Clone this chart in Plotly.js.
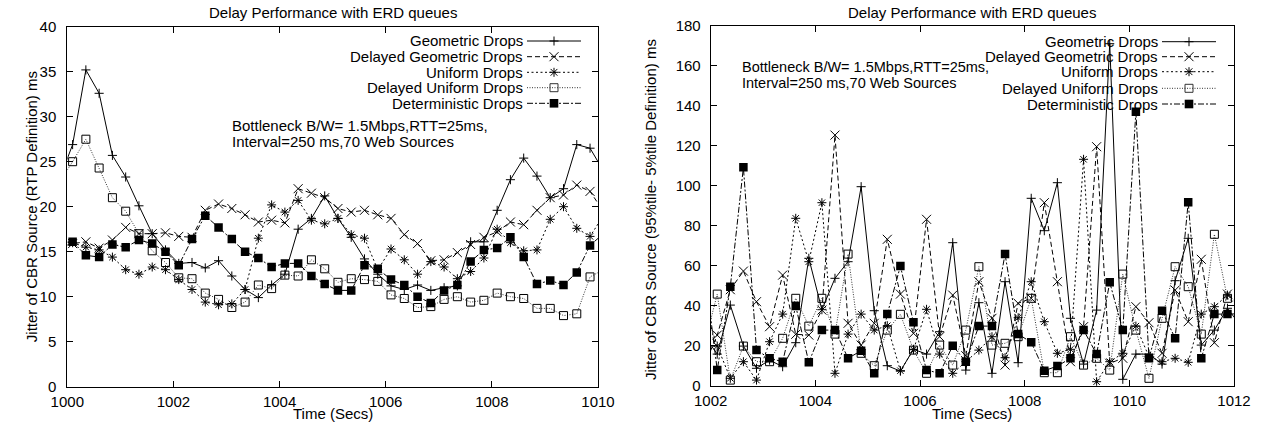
<!DOCTYPE html>
<html><head><meta charset="utf-8">
<script src="https://cdn.plot.ly/plotly-3.0.1.min.js"></script>
<style>html,body{margin:0;padding:0;background:#fff}</style>
</head><body>
<div id="chart" style="width:1265px;height:429px"></div>
<script>
// ---------- DATA ----------
const seriesNames = ['Geometric Drops','Delayed Geometric Drops','Uniform Drops','Delayed Uniform Drops','Deterministic Drops'];

// Left chart: Jitter (RTP definition), ms
const leftTime = [999.85,1000.10,1000.35,1000.60,1000.85,1001.10,1001.35,1001.60,1001.85,1002.10,1002.35,1002.60,1002.85,1003.10,1003.35,1003.60,1003.85,1004.10,1004.35,1004.60,1004.85,1005.10,1005.35,1005.60,1005.85,1006.10,1006.35,1006.60,1006.85,1007.10,1007.35,1007.60,1007.85,1008.10,1008.35,1008.60,1008.85,1009.10,1009.35,1009.60,1009.85,1010.10];
const leftGeometric = [23,26.9,35.2,32.6,25.7,23.3,20.1,17.0,15.2,13.7,13.8,13.2,14.0,12.3,10.8,9.9,11.3,12.5,17.5,18.7,21.2,18.7,16.6,14.2,12.5,11.2,10.8,11.3,10.7,11.0,11.2,16.1,16.1,19.6,23.0,25.4,23.4,21.0,22.0,26.9,26.5,24];
const leftDelayedGeometric = [15.5,15.9,16.1,15.4,16.3,17.7,17.0,17.0,17.1,16.7,16.6,19.6,20.3,19.8,19.1,18.3,18.5,18.2,22.0,21.5,21.0,19.8,19.4,19.6,19.1,18.7,16.9,15.9,14.0,14.1,14.9,15.8,16.6,17.2,18.3,18.0,19.6,21.0,21.3,22.4,21.7,19.5];
const leftUniform = [16.2,16.0,15.5,15.2,14.4,13.0,12.5,13.3,13.0,11.9,10.8,9.4,9.1,9.2,10.8,16.5,20.2,19.4,20.7,18.5,18.1,18.7,16.9,16.5,13.0,15.3,14.1,12.5,13.9,13.3,12.0,12.8,14.3,17.5,16.0,15.1,15.2,18.6,20.0,17.6,16.7,19];
const leftDelayedUniform = [22.7,25.0,27.5,24.3,21.0,19.5,17.0,15.1,13.8,12.1,12.0,10.4,9.7,8.8,9.4,11.3,10.9,12.4,12.3,14.1,13.1,11.6,12.0,11.9,11.7,10.2,9.8,8.8,8.9,9.7,10.0,9.4,9.6,10.4,10.0,9.8,8.7,8.7,7.9,8.1,12.2,13];
const leftDeterministic = [16.0,16.1,14.6,14.4,15.8,15.5,16.3,15.9,15.0,13.5,16.4,19.0,17.7,16.4,15.0,14.3,13.3,13.7,13.7,12.3,11.4,10.7,10.7,13.5,13.1,11.9,11.3,10.0,9.3,10.7,11.3,13.9,15.2,15.4,16.6,14.4,11.4,11.8,11.3,12.7,15.7,17];

// Right chart: Jitter (95%tile - 5%tile definition), ms
const rightTime = [1001.875,1002.125,1002.375,1002.625,1002.875,1003.125,1003.375,1003.625,1003.875,1004.125,1004.375,1004.625,1004.875,1005.125,1005.375,1005.625,1005.875,1006.125,1006.375,1006.625,1006.875,1007.125,1007.375,1007.625,1007.875,1008.125,1008.375,1008.625,1008.875,1009.125,1009.375,1009.625,1009.875,1010.125,1010.375,1010.625,1010.875,1011.125,1011.375,1011.625,1011.875,1012.125];
const rightGeometric = [25,15.8,40.3,19.8,8.7,12.8,9.5,21.5,63.7,38,53.7,62,99.5,37.5,10,7.3,18.2,15.8,27,71.5,7.8,41.5,6.2,52,11.5,93.7,77.5,101.5,33.7,10.8,37.8,171,3.2,15.8,15.8,10.8,52.5,73.7,20.3,27.8,38.7,30];
const rightDelayedGeometric = [10,25.3,48,57.3,42,29.5,55.3,25.7,25.3,37.8,125.3,31.2,20.3,31.2,73.2,45.8,26.2,83.2,24.5,45.3,15,52,33.7,10.3,41.2,43.7,91.5,52,12,29.5,119.5,11.2,13.7,39.5,31.5,16.2,47.8,32,63.2,21.5,45.8,40];
const rightUniform = [40,19.8,3.7,12,2.8,22,35.8,83.7,62,91.5,6.2,25.8,35.8,27.8,30,7.5,18,38.2,15.8,6.2,12,17.8,24.5,14,34,52,32,16.2,18.2,113.2,2,12,16.2,29.8,14.5,12,13.7,11.7,35.8,39.5,45.3,40];
const rightDelayedUniform = [20,45.8,2.8,19.8,12,12,23.7,43.7,29.8,43.7,25.8,65.8,16.2,10,27.8,35.7,17.8,6.2,20.3,10.3,27.8,59.5,20.3,21.2,24.5,43.7,6.5,6.5,24.5,10.3,13.7,7.8,55.8,27.8,3.7,33.7,59.5,49.5,25.8,75.7,43.7,40];
const rightDeterministic = [60,7.8,49.5,109.2,17.8,13.7,12,39.8,11.7,27.8,27.8,13.7,17.5,6.2,35.8,59.8,31.7,7.8,6.2,20,12,29.8,29.8,65.8,25.8,21.7,7.5,9.8,13.7,27.8,15.8,51.7,27.8,137,13.7,37.5,23.7,91.7,13.7,35.8,35.8,36];

const leftXTicks = [1000,1002,1004,1006,1008,1010];
const rightXTicks = [1002,1004,1006,1008,1010,1012];

// ---------- STYLE ----------
const W = 1265, H = 429;
const FONT = 'Liberation Sans, Arial, Helvetica, sans-serif';
const FS = 15;
const PX = x => x / W;
const PY = y => 1 - y / H;

const styles = [
  {dash:'solid',            symbol:'cross-thin-open', size:6.5, lw:1, color:'#000'},
  {dash:'5px,3px',          symbol:'x-thin-open',     size:9,   lw:1, color:'#000'},
  {dash:'2px,2.5px',        symbol:'asterisk-open',   size:7.5, lw:1, color:'#000'},
  {dash:'1px,1.5px',        symbol:'square-open',     size:8,   lw:1, color:'#333'},
  {dash:'6px,2px,2px,2px',  symbol:'square',          size:8.5, lw:1, color:'#000'}
];

const leftSeries = [leftGeometric,leftDelayedGeometric,leftUniform,leftDelayedUniform,leftDeterministic];
const rightSeries = [rightGeometric,rightDelayedGeometric,rightUniform,rightDelayedUniform,rightDeterministic];

const traces = [];
function addTraces(time, series, xa, ya) {
  series.forEach((vals, i) => {
    const s = styles[i];
    traces.push({
      type:'scatter', mode:'lines+markers', x: time, y: vals, xaxis: xa, yaxis: ya,
      name: seriesNames[i], showlegend:false, hoverinfo:'skip',
      line:{color:s.color, width:1, dash:s.dash},
      marker:{symbol:s.symbol, size:s.size, color:'#000',
              line:{color:'#000', width: s.symbol==='square' ? 0 : 1}}
    });
  });
}
addTraces(leftTime, leftSeries, 'x', 'y');
addTraces(rightTime, rightSeries, 'x2', 'y2');

function axisCommon() {
  return {
    showline:true, linecolor:'#000', linewidth:1, mirror:'ticks',
    ticks:'inside', ticklen:6, tickwidth:1, tickcolor:'#000',
    showgrid:false, zeroline:false, fixedrange:true,
    tickfont:{family:FONT, size:FS, color:'#000'}
  };
}

const layout = {
  width:W, height:H, margin:{l:0,r:0,t:0,b:0}, showlegend:false,
  paper_bgcolor:'#fff', plot_bgcolor:'#fff',
  font:{family:FONT, size:FS, color:'#000'},
  xaxis: Object.assign(axisCommon(), {domain:[PX(67.3),PX(598)], range:[1000,1010], tickvals:leftXTicks, anchor:'y', ticklabelstandoff:1}),
  yaxis: Object.assign(axisCommon(), {domain:[PY(386.7),PY(26.7)], range:[0,40], dtick:5, tick0:0, anchor:'x', ticklabelstandoff:7}),
  xaxis2: Object.assign(axisCommon(), {domain:[PX(710.7),PX(1234)], range:[1002,1012], tickvals:rightXTicks, anchor:'y2', ticklabelstandoff:1}),
  yaxis2: Object.assign(axisCommon(), {domain:[PY(385.7),PY(25.7)], range:[0,180], dtick:20, tick0:0, anchor:'x2', ticklabelstandoff:6}),
  annotations: [], shapes: []
};

function ann(text, x, y, opts) {
  layout.annotations.push(Object.assign({
    text, x:PX(x), y:PY(y), xref:'paper', yref:'paper', showarrow:false,
    xanchor:'center', yanchor:'middle', borderpad:0,
    font:{family:FONT, size:FS, color:'#000'}
  }, opts || {}));
}

// titles
ann('Delay Performance with ERD queues', 332.6, 12.5);
ann('Delay Performance with ERD queues', 972.4, 12.5);
// axis titles
ann('Time (Secs)', 332.6, 413);
ann('Time (Secs)', 972.4, 413);
ann('Jitter of CBR Source (RTP Definition) ms', 31.5, 206.7, {textangle:-90});
ann('Jitter of CBR Source (95%tile- 5%tile Definition) ms', 650, 210, {textangle:-90});
// notes
ann('Bottleneck B/W= 1.5Mbps,RTT=25ms,', 231, 125, {xanchor:'left'});
ann('Interval=250 ms,70 Web Sources', 231, 141.7, {xanchor:'left'});
ann('Bottleneck B/W= 1.5Mbps,RTT=25ms,', 740.7, 67, {xanchor:'left', font:{family:FONT, size:14.5, color:'#000'}});
ann('Interval=250 ms,70 Web Sources', 740.7, 83, {xanchor:'left', font:{family:FONT, size:14.5, color:'#000'}});

// custom gnuplot-style legends (text right, sample to the right of text)
function shp(o) { layout.shapes.push(Object.assign({xref:'paper', yref:'paper', layer:'above'}, o)); }
function seg(x0,y0,x1,y1,dash,color) {
  shp({type:'line', x0:PX(x0), y0:PY(y0), x1:PX(x1), y1:PY(y1), line:{color:color||'#000', width:1, dash:dash||'solid'}});
}
function legendMarker(i, cx, cy) {
  const r = 4.5;
  if (i === 0) { seg(cx-r,cy,cx+r,cy); seg(cx,cy-r,cx,cy+r); }
  else if (i === 1) { seg(cx-r,cy-r,cx+r,cy+r); seg(cx-r,cy+r,cx+r,cy-r); }
  else if (i === 2) { seg(cx-r,cy,cx+r,cy); seg(cx,cy-r,cx,cy+r); const q=r*0.75; seg(cx-q,cy-q,cx+q,cy+q); seg(cx-q,cy+q,cx+q,cy-q); }
  else if (i === 3) { shp({type:'rect', x0:PX(cx-4), x1:PX(cx+4), y0:PY(cy-4), y1:PY(cy+4), line:{color:'#333', width:1}, fillcolor:'rgba(0,0,0,0)'}); }
  else { shp({type:'rect', x0:PX(cx-4.3), x1:PX(cx+4.3), y0:PY(cy-4.3), y1:PY(cy+4.3), line:{color:'#000', width:0}, fillcolor:'#000'}); }
}
function legend(textRight, lineX0, lineX1, rows) {
  seriesNames.forEach((nm, i) => {
    const y = rows[i];
    ann(nm, textRight, y, {xanchor:'right'});
    seg(lineX0, y, lineX1, y, styles[i].dash, styles[i].color);
    legendMarker(i, (lineX0+lineX1)/2, y);
  });
}
legend(524, 527, 581, [41, 56.7, 72.3, 87.7, 103.3]);
legend(1159, 1162, 1216, [41.7, 56.7, 71.7, 88.3, 104]);

Plotly.newPlot('chart', traces, layout, {staticPlot:true, displayModeBar:false});
</script>
</body></html>
